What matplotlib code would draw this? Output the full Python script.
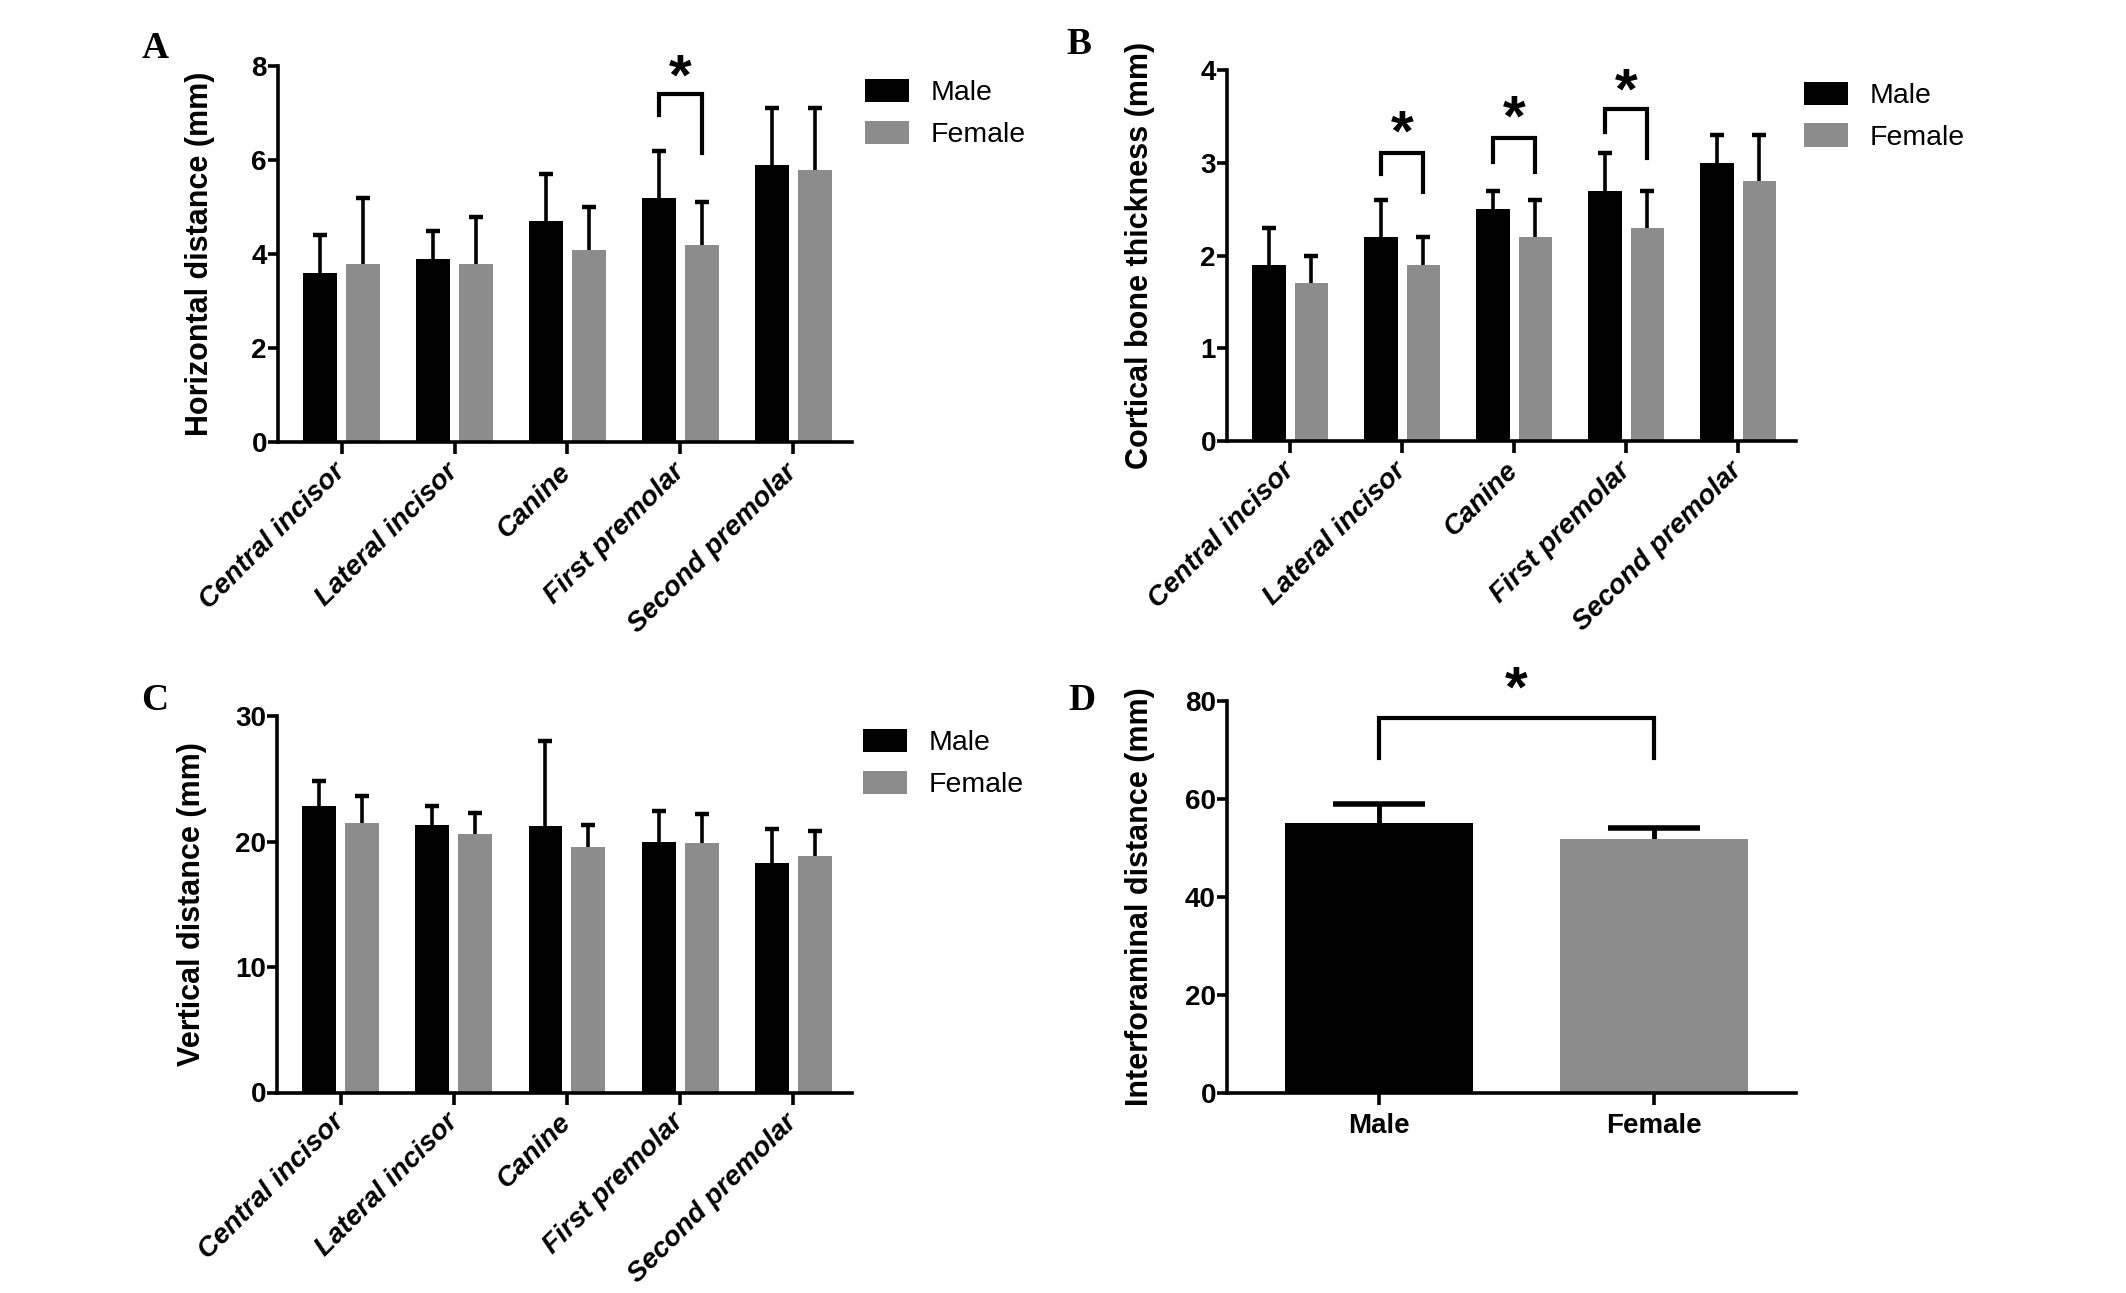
import matplotlib
matplotlib.use('Agg')
import matplotlib.pyplot as plt
import numpy as np

plt.rcParams['font.family'] = ['Liberation Sans', 'DejaVu Sans']

categories = ['Central incisor', 'Lateral incisor', 'Canine', 'First premolar', 'Second premolar']
groups = ['Male', 'Female']

# A - horizontal distance
horiz_male = [3.6, 3.9, 4.7, 5.2, 5.9]
horiz_male_sd = [0.8, 0.6, 1.0, 1.0, 1.2]
horiz_female = [3.8, 3.8, 4.1, 4.2, 5.8]
horiz_female_sd = [1.4, 1.0, 0.9, 0.9, 1.3]

# B - cortical bone thickness
cort_male = [1.9, 2.2, 2.5, 2.7, 3.0]
cort_male_sd = [0.4, 0.4, 0.2, 0.4, 0.3]
cort_female = [1.7, 1.9, 2.2, 2.3, 2.8]
cort_female_sd = [0.3, 0.3, 0.4, 0.4, 0.5]

# C - vertical distance
vert_male = [22.8, 21.3, 21.2, 19.95, 18.3]
vert_male_sd = [2.0, 1.5, 6.8, 2.45, 2.7]
vert_female = [21.5, 20.6, 19.6, 19.9, 18.85]
vert_female_sd = [2.1, 1.7, 1.7, 2.3, 1.95]

# D - interforaminal distance
inter_mean = [55.1, 51.8]
inter_sd = [3.8, 2.3]

# significance brackets: (category, left leg bottom, top, right leg bottom, star y)
horiz_sig = [(3, 6.95, 7.41, 6.16, 7.95)]
cort_sig = [(1, 2.88, 3.10, 2.69, 3.41),
            (2, 3.01, 3.27, 2.90, 3.58),
            (3, 3.33, 3.58, 3.05, 3.87)]
inter_sig = (68.3, 76.6, 68.3, 84.2)

BLACK = '#000000'
GREY = '#8c8c8c'
W, H = 2126, 1293


def style_axes(ax):
    for s in ['top', 'right']:
        ax.spines[s].set_visible(False)
    for s in ['left', 'bottom']:
        ax.spines[s].set_linewidth(2.6)
    ax.tick_params(axis='y', direction='out', length=7, width=2.6, pad=1, labelsize=20)
    ax.tick_params(axis='x', direction='out', length=8.5, width=2.6)
    for lab in ax.get_yticklabels():
        lab.set_fontweight('bold')


def up_errorbar(ax, x, y, err, lw, cap, capthick):
    eb = ax.errorbar(x, y, yerr=[np.zeros(len(err)), err], fmt='none', ecolor='k',
                     elinewidth=lw, capsize=cap, capthick=capthick, zorder=1)
    eb[1][0].set_visible(False)


def star(ax, x, y):
    ax.annotate('*', xy=(x, y), xytext=(0, -8), textcoords='offset points',
                ha='center', va='center', fontsize=42, fontweight='bold', annotation_clip=False)


def grouped_panel(ax, male, male_sd, female, female_sd, ymax, yticks, ylabel, sig, leg_xy):
    x = np.arange(len(categories))
    off, bw = 0.19, 0.30
    ax.bar(x - off, male, bw, color=BLACK, label=groups[0], zorder=2)
    ax.bar(x + off, female, bw, color=GREY, label=groups[1], zorder=2)
    up_errorbar(ax, x - off, male, male_sd, 2.6, 5, 3.2)
    up_errorbar(ax, x + off, female, female_sd, 2.6, 5, 3.2)
    ax.set_xlim(-0.564, 4.516)
    ax.set_ylim(0, ymax)
    ax.set_yticks(yticks)
    ax.set_xticks(x)
    ax.set_xticklabels(categories, rotation=45, ha='right', va='center', rotation_mode='anchor',
                       fontsize=20, fontweight='bold', fontstyle='italic')
    ax.tick_params(axis='x', pad=10)
    ax.set_ylabel(ylabel, fontsize=22, fontweight='bold')
    style_axes(ax)
    for i, yl, yt, yr, ys in sig:
        ax.plot([i - off, i - off, i + off, i + off], [yl, yt, yt, yr], color='k', lw=3,
                clip_on=False, solid_joinstyle='miter')
        star(ax, i, ys)
    ax.legend(loc='upper left', bbox_to_anchor=leg_xy, frameon=False, borderpad=0,
              borderaxespad=0, fontsize=20.5, handlelength=1.55, handleheight=0.9,
              handletextpad=0.75, labelspacing=0.5)


fig = plt.figure(figsize=(W / 100, H / 100), dpi=100)

axA = fig.add_axes([278 / W, 1 - 442.5 / H, 573.5 / W, 376.5 / H])
axB = fig.add_axes([1227 / W, 1 - 441 / H, 569 / W, 371 / H])
axC = fig.add_axes([277 / W, 1 - 1092.5 / H, 574.5 / W, 376.5 / H])
axD = fig.add_axes([1227 / W, 1 - 1093 / H, 569 / W, 392 / H])

grouped_panel(axA, horiz_male, horiz_male_sd, horiz_female, horiz_female_sd,
              8, [0, 2, 4, 6, 8], 'Horizontal distance (mm)', horiz_sig, (1.024, 0.966))
grouped_panel(axB, cort_male, cort_male_sd, cort_female, cort_female_sd,
              4, [0, 1, 2, 3, 4], 'Cortical bone thickness (mm)', cort_sig, (1.014, 0.969))
grouped_panel(axC, vert_male, vert_male_sd, vert_female, vert_female_sd,
              30, [0, 10, 20, 30], 'Vertical distance (mm)', [], (1.020, 0.966))

axA.yaxis.set_label_coords(-0.11, 0.5)
axB.yaxis.set_label_coords(-0.127, 0.5)
axC.yaxis.set_label_coords(-0.122, 0.5)

# D
xd = np.arange(len(groups))
axD.bar(xd, inter_mean, 0.685, color=[BLACK, GREY], zorder=2)
up_errorbar(axD, xd, inter_mean, inter_sd, 3.5, 33, 4)
axD.set_xlim(-0.553, 1.516)
axD.set_ylim(0, 80)
axD.set_yticks([0, 20, 40, 60, 80])
axD.set_xticks(xd)
axD.set_xticklabels(groups, fontsize=20, fontweight='bold')
axD.tick_params(axis='x', pad=6)
axD.set_ylabel('Interforaminal distance (mm)', fontsize=22, fontweight='bold')
style_axes(axD)
axD.yaxis.set_label_coords(-0.127, 0.5)
yl, yt, yr, ys = inter_sig
axD.plot([0, 0, 1, 1], [yl, yt, yt, yr], color='k', lw=3, clip_on=False, solid_joinstyle='miter')
star(axD, 0.5, ys)

# panel letters
for letter, px, py in [('A', 155, 48), ('B', 1079, 45), ('C', 155, 700), ('D', 1082, 700)]:
    fig.text(px / W, 1 - py / H, letter, ha='center', va='center', fontsize=27,
             fontweight='bold', family='Liberation Serif')

fig.savefig('out.png', dpi=100)
